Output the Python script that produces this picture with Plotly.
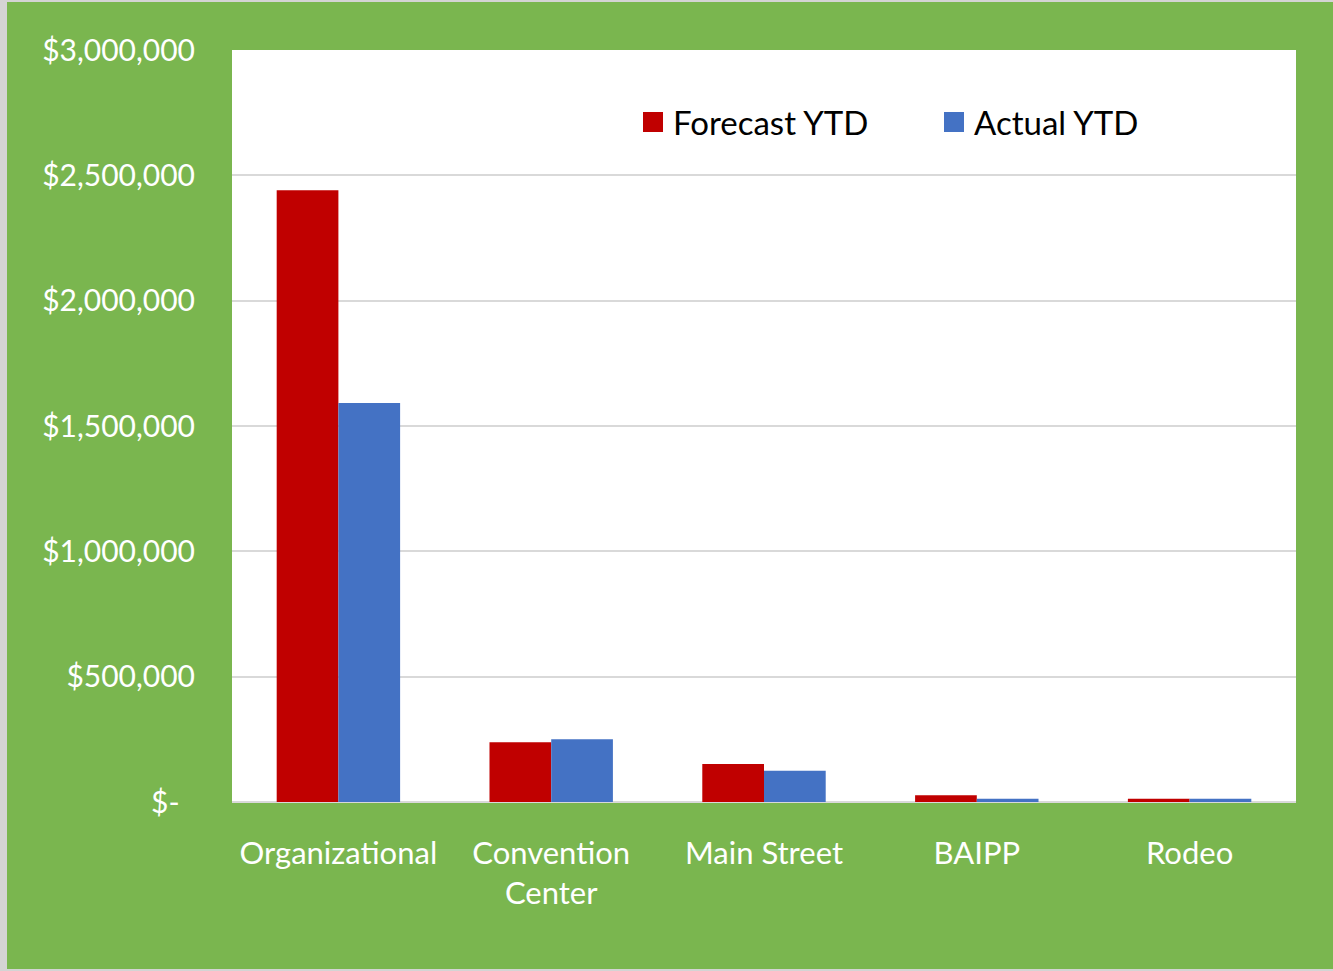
import plotly.graph_objects as go

categories = ["Organizational", "Convention<br>Center", "Main Street", "BAIPP", "Rodeo"]
forecast_ytd = [2440000, 238000, 152000, 27000, 13000]
actual_ytd = [1592000, 250000, 125000, 13000, 13000]
tick_vals = [0, 500000, 1000000, 1500000, 2000000, 2500000, 3000000]
tick_text = ["$-  ", "$500,000", "$1,000,000", "$1,500,000", "$2,000,000", "$2,500,000", "$3,000,000"]
series_names = ["Forecast YTD", "Actual YTD"]
series_colors = ["#C00000", "#4472C4"]

W, H = 1333, 971
L, R, T, B = 232, 37, 50, 169
pw, ph = W - L - R, H - T - B

fig = go.Figure()
for name, vals, col in zip(series_names, [forecast_ytd, actual_ytd], series_colors):
    fig.add_trace(go.Bar(name=name, x=categories, y=vals, showlegend=False, legendgroup=name,
                         marker=dict(color=col, line=dict(width=0))))
# legend entries with larger square symbols
for name, col in zip(series_names, series_colors):
    fig.add_trace(go.Scatter(name=name, x=[None], y=[None], mode="markers", legendgroup=name,
                             marker=dict(symbol="square", size=16, color=col,
                                         line=dict(color=col, width=4))))

def px_x(p):
    return (p - L) / pw

def px_y(p):
    return (H - B - p) / ph

shapes = [
    dict(type="rect", xref="paper", yref="paper", x0=px_x(0), x1=px_x(7), y0=px_y(H), y1=px_y(0),
         fillcolor="#D4D4D4", line=dict(width=0), layer="below"),
    dict(type="rect", xref="paper", yref="paper", x0=px_x(0), x1=px_x(W), y0=px_y(2), y1=px_y(0),
         fillcolor="#D4D4D4", line=dict(width=0), layer="below"),
    dict(type="rect", xref="paper", yref="paper", x0=px_x(0), x1=px_x(W), y0=px_y(H), y1=px_y(H - 2),
         fillcolor="#D4D4D4", line=dict(width=0), layer="below"),
]

fig.update_layout(
    width=W, height=H,
    margin=dict(l=L, r=R, t=T, b=B, pad=0),
    paper_bgcolor="#7AB64F",
    plot_bgcolor="#FFFFFF",
    barmode="group",
    bargap=0.42,
    bargroupgap=0,
    font=dict(family="Lato, Open Sans, sans-serif", size=30, color="#FFFFFF"),
    showlegend=True,
    legend=dict(orientation="h", x=px_x(633), y=px_y(122), xanchor="left", yanchor="middle",
                font=dict(size=33, color="#000000"), bgcolor="rgba(0,0,0,0)",
                entrywidth=256, entrywidthmode="pixels", itemwidth=30, traceorder="normal",
                itemsizing="trace"),
    xaxis=dict(showgrid=False, showline=False, ticks="", tickfont=dict(size=31, color="#FFFFFF"),
               ticklabelstandoff=30),
    yaxis=dict(range=[0, 3000000], tickvals=tick_vals, ticktext=tick_text,
               showgrid=True, gridcolor="#D9D9D9", gridwidth=2,
               zeroline=True, zerolinecolor="#D9D9D9", zerolinewidth=2,
               showline=False, ticks="", tickfont=dict(size=30, color="#FFFFFF"),
               ticklabelstandoff=36),
    shapes=shapes,
)

fig.write_html("out.html")
